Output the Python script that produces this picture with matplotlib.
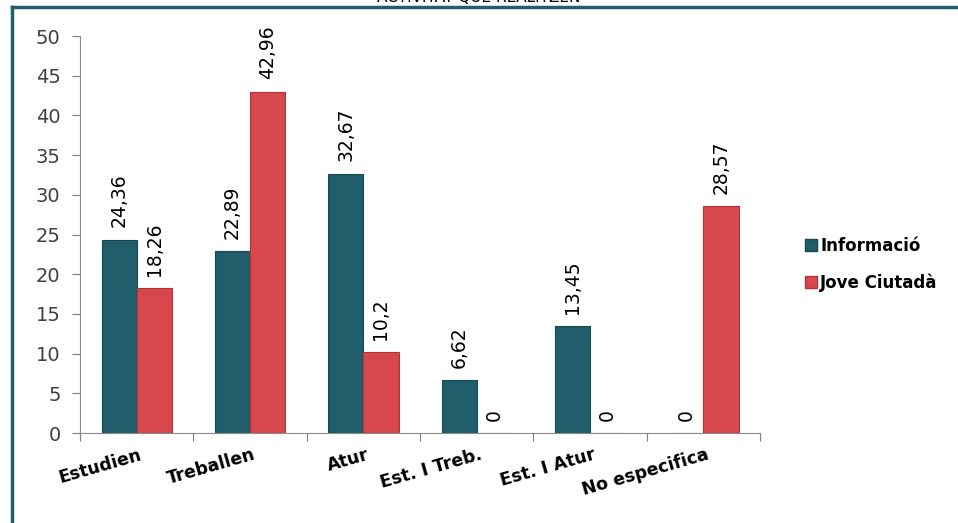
import numpy as np
import matplotlib.pyplot as plt
from matplotlib.lines import Line2D
from matplotlib.patches import Patch

categories = ["Estudien", "Treballen", "Atur", "Est. I Treb.", "Est. I Atur", "No especifica"]
informacio = [24.36, 22.89, 32.67, 6.62, 13.45, 0]
jove_ciutada = [18.26, 42.96, 10.2, 0, 0, 28.57]
series_names = ["Informació", "Jove Ciutadà"]

teal = "#1f5e6a"
red = "#d8474b"


def fmt(v):
    s = ("%.2f" % v).rstrip("0").rstrip(".")
    return s.replace(".", ",")


fig = plt.figure(figsize=(9.58, 5.23), dpi=100)
ax = fig.add_axes([0.0835, 0.172, 0.71, 0.759])

x = np.arange(len(categories))
w = 0.31
b1 = ax.bar(x - w / 2, informacio, w, color=teal, edgecolor="#17484f", linewidth=0.8)
b2 = ax.bar(x + w / 2, jove_ciutada, w, color=red, edgecolor="#b03539", linewidth=0.8)

for bars, vals in [(b1, informacio), (b2, jove_ciutada)]:
    for r, v in zip(bars, vals):
        ax.annotate(fmt(v), (r.get_x() + r.get_width() / 2, v),
                    xytext=(0, 9), textcoords="offset points",
                    rotation=90, ha="center", va="bottom", fontsize=13.5)

ax.set_xlim(-0.5, len(categories) - 0.5)
ax.set_ylim(0, 50)
ax.set_yticks(np.arange(0, 51, 5))
ax.tick_params(axis="y", labelsize=14, colors="#7f7f7f", length=6, pad=8)
ax.tick_params(axis="y", labelcolor="#404040")

ax.set_xticks(np.arange(-0.5, len(categories)), minor=False)
ax.set_xticklabels([""] * (len(categories) + 1))
ax.tick_params(axis="x", length=6, colors="#7f7f7f")
for xi, lab in zip(x, categories):
    ax.text(xi + 0.02, -1.6, lab, rotation=16, ha="right", va="top",
            rotation_mode="anchor", fontsize=12.5, fontweight="bold")

for s in ["top", "right"]:
    ax.spines[s].set_visible(False)
for s in ["left", "bottom"]:
    ax.spines[s].set_color("#8c8c8c")

handles = [Patch(facecolor=teal, edgecolor="#17484f"), Patch(facecolor=red, edgecolor="#b03539")]
fig.legend(handles, series_names, loc="center left", bbox_to_anchor=(0.825, 0.495),
           frameon=False, prop={"weight": "bold", "size": 12}, handlelength=0.7,
           handleheight=0.7, handletextpad=0.2, labelspacing=1.1)

# frame lines of the page
fig.add_artist(Line2D([0.0125, 0.0125], [0, 0.987], color="#1f5e6a", lw=2.5))
fig.add_artist(Line2D([0.0125, 1.0], [0.987, 0.987], color="#1f5e6a", lw=2.5))
fig.text(0.5, 1.005, "ACTIVITAT QUE REALITZEN", ha="center", va="center", fontsize=11)

fig.savefig("out.png", dpi=100)
